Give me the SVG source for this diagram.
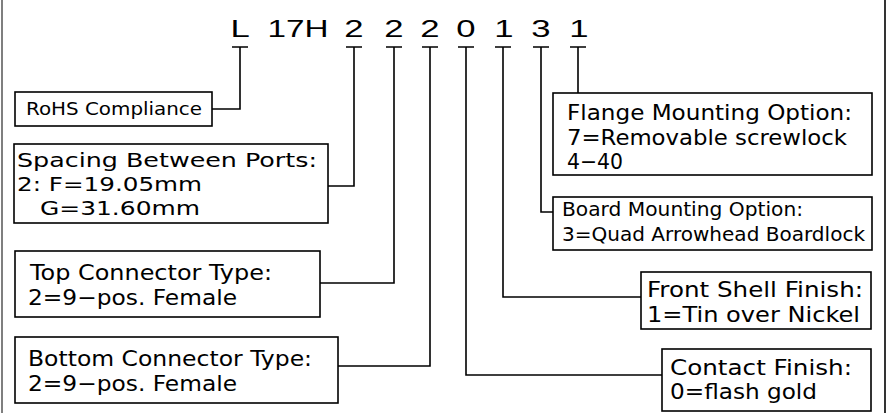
<svg xmlns="http://www.w3.org/2000/svg" width="887" height="413" viewBox="0 0 887 413">
<style>
.box{fill:#fff;stroke:#000;stroke-width:1.6}
.wire{fill:none;stroke:#000;stroke-width:1.6}
.pn{font-family:"Liberation Sans",Arial,sans-serif;font-size:24px;fill:#000}
.t{font-family:"DejaVu Sans",sans-serif;font-size:22px;fill:#000}
.m{font-family:"DejaVu Sans",sans-serif;font-size:19.5px;fill:#000}
.s{font-family:"DejaVu Sans",sans-serif;font-size:19px;fill:#000}
.r{font-family:"DejaVu Sans",sans-serif;font-size:17px;fill:#000}
</style>
<rect width="887" height="413" fill="#fff"/>
<line x1="2" y1="0" x2="2" y2="413" stroke="#555" stroke-width="1.5"/>
<line x1="885" y1="0" x2="885" y2="413" stroke="#000" stroke-width="1.6"/>
<g id="partnumber">
<text class="pn" x="230.5" y="37" textLength="19.3" lengthAdjust="spacingAndGlyphs">L</text>
<text class="pn" x="267.5" y="37" textLength="61" lengthAdjust="spacingAndGlyphs">17H</text>
<text class="pn" x="344.3" y="37" textLength="19.3" lengthAdjust="spacingAndGlyphs">2</text>
<text class="pn" x="384.3" y="37" textLength="19.3" lengthAdjust="spacingAndGlyphs">2</text>
<text class="pn" x="420.3" y="37" textLength="19.3" lengthAdjust="spacingAndGlyphs">2</text>
<text class="pn" x="456.3" y="37" textLength="19.3" lengthAdjust="spacingAndGlyphs">0</text>
<text class="pn" x="494.3" y="37" textLength="19.3" lengthAdjust="spacingAndGlyphs">1</text>
<text class="pn" x="531.3" y="37" textLength="19.3" lengthAdjust="spacingAndGlyphs">3</text>
<text class="pn" x="569.3" y="37" textLength="19.3" lengthAdjust="spacingAndGlyphs">1</text>
</g>
<g id="connectors">
<path class="wire" d="M232 47H248M240 47V109H212"/>
<path class="wire" d="M346 47H362M354 47V186H328"/>
<path class="wire" d="M386 47H402M394 47V283H320"/>
<path class="wire" d="M422 47H438M430 47V366H338"/>
<path class="wire" d="M458 47H474M466 47V375H662"/>
<path class="wire" d="M495 47H511M503 47V297H641"/>
<path class="wire" d="M533 47H549M541 47V212H553"/>
<path class="wire" d="M570 47H586M578 47V93"/>
</g>
<g id="rohs">
<rect class="box" x="15" y="92" width="197" height="34"/>
<text class="r" x="26" y="115" textLength="176" lengthAdjust="spacingAndGlyphs">RoHS Compliance</text>
</g>
<g id="spacing">
<rect class="box" x="14" y="144" width="314" height="79"/>
<text class="m" x="17" y="167" textLength="300" lengthAdjust="spacingAndGlyphs">Spacing Between Ports:</text>
<text class="m" x="17" y="191" textLength="185" lengthAdjust="spacingAndGlyphs">2: F=19.05mm</text>
<text class="m" x="40" y="215" textLength="160" lengthAdjust="spacingAndGlyphs">G=31.60mm</text>
</g>
<g id="topconn">
<rect class="box" x="15" y="251" width="305" height="66"/>
<text class="t" x="30" y="280" textLength="242" lengthAdjust="spacingAndGlyphs">Top Connector Type:</text>
<text class="t" x="28" y="305" textLength="209" lengthAdjust="spacingAndGlyphs">2=9−pos. Female</text>
</g>
<g id="bottomconn">
<rect class="box" x="15" y="337" width="323" height="66"/>
<text class="t" x="28" y="366" textLength="284" lengthAdjust="spacingAndGlyphs">Bottom Connector Type:</text>
<text class="t" x="28" y="391" textLength="209" lengthAdjust="spacingAndGlyphs">2=9−pos. Female</text>
</g>
<g id="flange">
<rect class="box" x="553" y="93" width="319" height="82"/>
<text class="t" x="567" y="120" textLength="285" lengthAdjust="spacingAndGlyphs">Flange Mounting Option:</text>
<text class="t" x="567" y="145" textLength="280" lengthAdjust="spacingAndGlyphs">7=Removable screwlock</text>
<text class="t" x="567" y="169" textLength="56" lengthAdjust="spacingAndGlyphs">4−40</text>
</g>
<g id="board">
<rect class="box" x="553" y="197" width="319" height="53"/>
<text class="s" x="562" y="216" textLength="241" lengthAdjust="spacingAndGlyphs">Board Mounting Option:</text>
<text class="s" x="562" y="241" textLength="303" lengthAdjust="spacingAndGlyphs">3=Quad Arrowhead Boardlock</text>
</g>
<g id="frontshell">
<rect class="box" x="641" y="272" width="230" height="57"/>
<text class="t" x="647" y="297" textLength="216" lengthAdjust="spacingAndGlyphs">Front Shell Finish:</text>
<text class="t" x="647" y="322" textLength="213" lengthAdjust="spacingAndGlyphs">1=Tin over Nickel</text>
</g>
<g id="contact">
<rect class="box" x="662" y="349" width="209" height="62"/>
<text class="t" x="670" y="375" textLength="182" lengthAdjust="spacingAndGlyphs">Contact Finish:</text>
<text class="t" x="670" y="399" textLength="147" lengthAdjust="spacingAndGlyphs">0=flash gold</text>
</g>
</svg>
